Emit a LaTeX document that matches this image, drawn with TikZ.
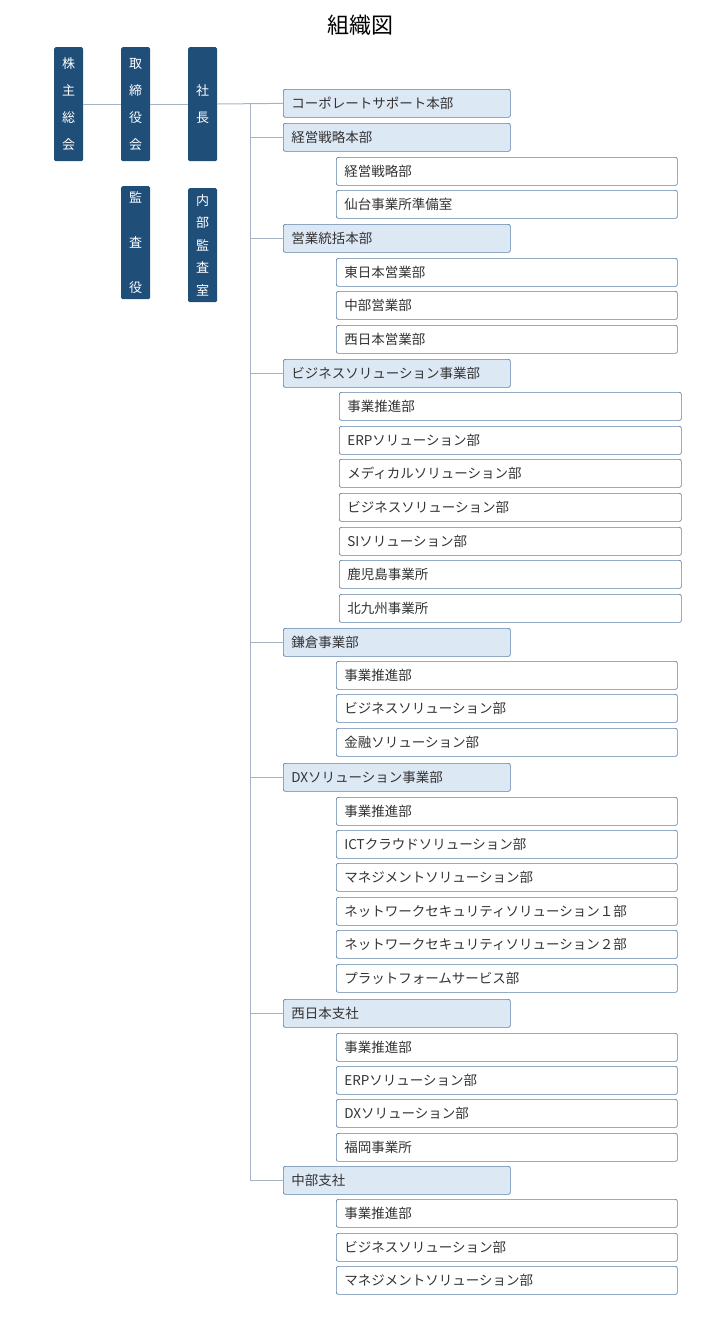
\documentclass[tikz,border=0pt]{standalone}
\usepackage{fontspec}
\setmainfont{Noto Sans CJK JP}
\begin{document}
\begin{tikzpicture}[x=1pt,y=-1pt,
  exec/.style={draw=none,fill=exfill,rounded corners=1.5pt,text=white,font=\fontsize{13}{24}\selectfont,align=center,inner sep=0pt},
  lone/.style={draw=lvborder,fill=lvfill,rounded corners=2pt,line width=0.7pt,text=txt,font=\fontsize{13.5}{16}\selectfont,align=left,inner xsep=8pt,inner ysep=0pt,anchor=north west,minimum height=28},
  ltwo/.style={lone,fill=white},
  conn/.style={draw=lnc,line width=1pt}]
\definecolor{exfill}{HTML}{1F4E79}
\definecolor{lvfill}{HTML}{DDE8F5}
\definecolor{lvborder}{HTML}{5B80A8}
\definecolor{txt}{HTML}{333333}
\definecolor{lnc}{HTML}{A6B4C6}
\useasboundingbox (0,0) rectangle (720,1323);
\node[font=\fontsize{22}{26}\selectfont] (title) at (360,25) {組織図};
\newcommand\vb[5]{\node[exec,minimum width=29,minimum height=#4,anchor=north west] (#1) at (#2,#3) {}; \node[text=white,font=\fontsize{13}{#5}\selectfont,align=center,inner sep=0pt] (#1t) at (#1.center) {\parbox{20pt}{\centering\baselineskip=#5pt\lineskip=0pt\lineskiplimit=-20pt };}}
\node[exec,minimum width=29,minimum height=114,anchor=north west] (shk) at (54,47) {};
\node[text=white,font=\fontsize{13}{27}\selectfont,align=center] (shkt) at (shk.center) {株\\主\\総\\会};
\node[exec,minimum width=29,minimum height=114,anchor=north west] (trs) at (121,47) {};
\node[text=white,font=\fontsize{13}{27}\selectfont,align=center] (trst) at (trs.center) {取\\締\\役\\会};
\node[exec,minimum width=29,minimum height=114,anchor=north west] (ceo) at (188,47) {};
\node[text=white,font=\fontsize{13}{27}\selectfont,align=center] (ceot) at (ceo.center) {社\\長};
\node[exec,minimum width=29,minimum height=113,anchor=north west] (kns) at (121,186) {};
\node[text=white,font=\fontsize{13}{45}\selectfont,align=center] (knst) at (kns.center) {監\\査\\役};
\node[exec,minimum width=29,minimum height=114,anchor=north west] (nbk) at (188,188) {};
\node[text=white,font=\fontsize{13}{22.5}\selectfont,align=center] (nbkt) at (nbk.center) {内\\部\\監\\査\\室};
\draw[conn] (shk) -- (trs);
\draw[conn] (trs) -- (ceo);
\newcommand\la[3]{\node[lone,text width=211] (#1) at (283,#2) {#3};}
\newcommand\lb[3]{\node[ltwo,text width=325] (#1) at (336,#2) {#3};}
\newcommand\lc[3]{\node[ltwo,text width=326] (#1) at (339,#2) {#3};}
\la{a}{89}{コーポレートサポート本部}
\la{b}{123}{経営戦略本部}
\lb{b1}{157}{経営戦略部}
\lb{b2}{190}{仙台事業所準備室}
\la{c}{224}{営業統括本部}
\lb{c1}{258}{東日本営業部}
\lb{c2}{291}{中部営業部}
\lb{c3}{325}{西日本営業部}
\la{d}{359}{ビジネスソリューション事業部}
\lc{d1}{392}{事業推進部}
\lc{d2}{426}{ERPソリューション部}
\lc{d3}{459}{メディカルソリューション部}
\lc{d4}{493}{ビジネスソリューション部}
\lc{d5}{527}{SIソリューション部}
\lc{d6}{560}{鹿児島事業所}
\lc{d7}{594}{北九州事業所}
\la{e}{628}{鎌倉事業部}
\lb{e1}{661}{事業推進部}
\lb{e2}{694}{ビジネスソリューション部}
\lb{e3}{728}{金融ソリューション部}
\la{f}{763}{DXソリューション事業部}
\lb{f1}{797}{事業推進部}
\lb{f2}{830}{ICTクラウドソリューション部}
\lb{f3}{863}{マネジメントソリューション部}
\lb{f4}{897}{ネットワークセキュリティソリューション１部}
\lb{f5}{930}{ネットワークセキュリティソリューション２部}
\lb{f6}{964}{プラットフォームサービス部}
\la{g}{999}{西日本支社}
\lb{g1}{1033}{事業推進部}
\lb{g2}{1066}{ERPソリューション部}
\lb{g3}{1099}{DXソリューション部}
\lb{g4}{1133}{福岡事業所}
\la{h}{1166}{中部支社}
\lb{h1}{1199}{事業推進部}
\lb{h2}{1233}{ビジネスソリューション部}
\lb{h3}{1266}{マネジメントソリューション部}
\coordinate (trunk) at (250,104);
\draw[conn] (ceo.east |- trunk) -- (a.west);
\draw[conn] (trunk) -- (trunk |- h.west);
\foreach \n in {b,c,d,e,f,g,h} {\draw[conn] (trunk |- \n.west) -- (\n.west);}
\end{tikzpicture}
\end{document}
